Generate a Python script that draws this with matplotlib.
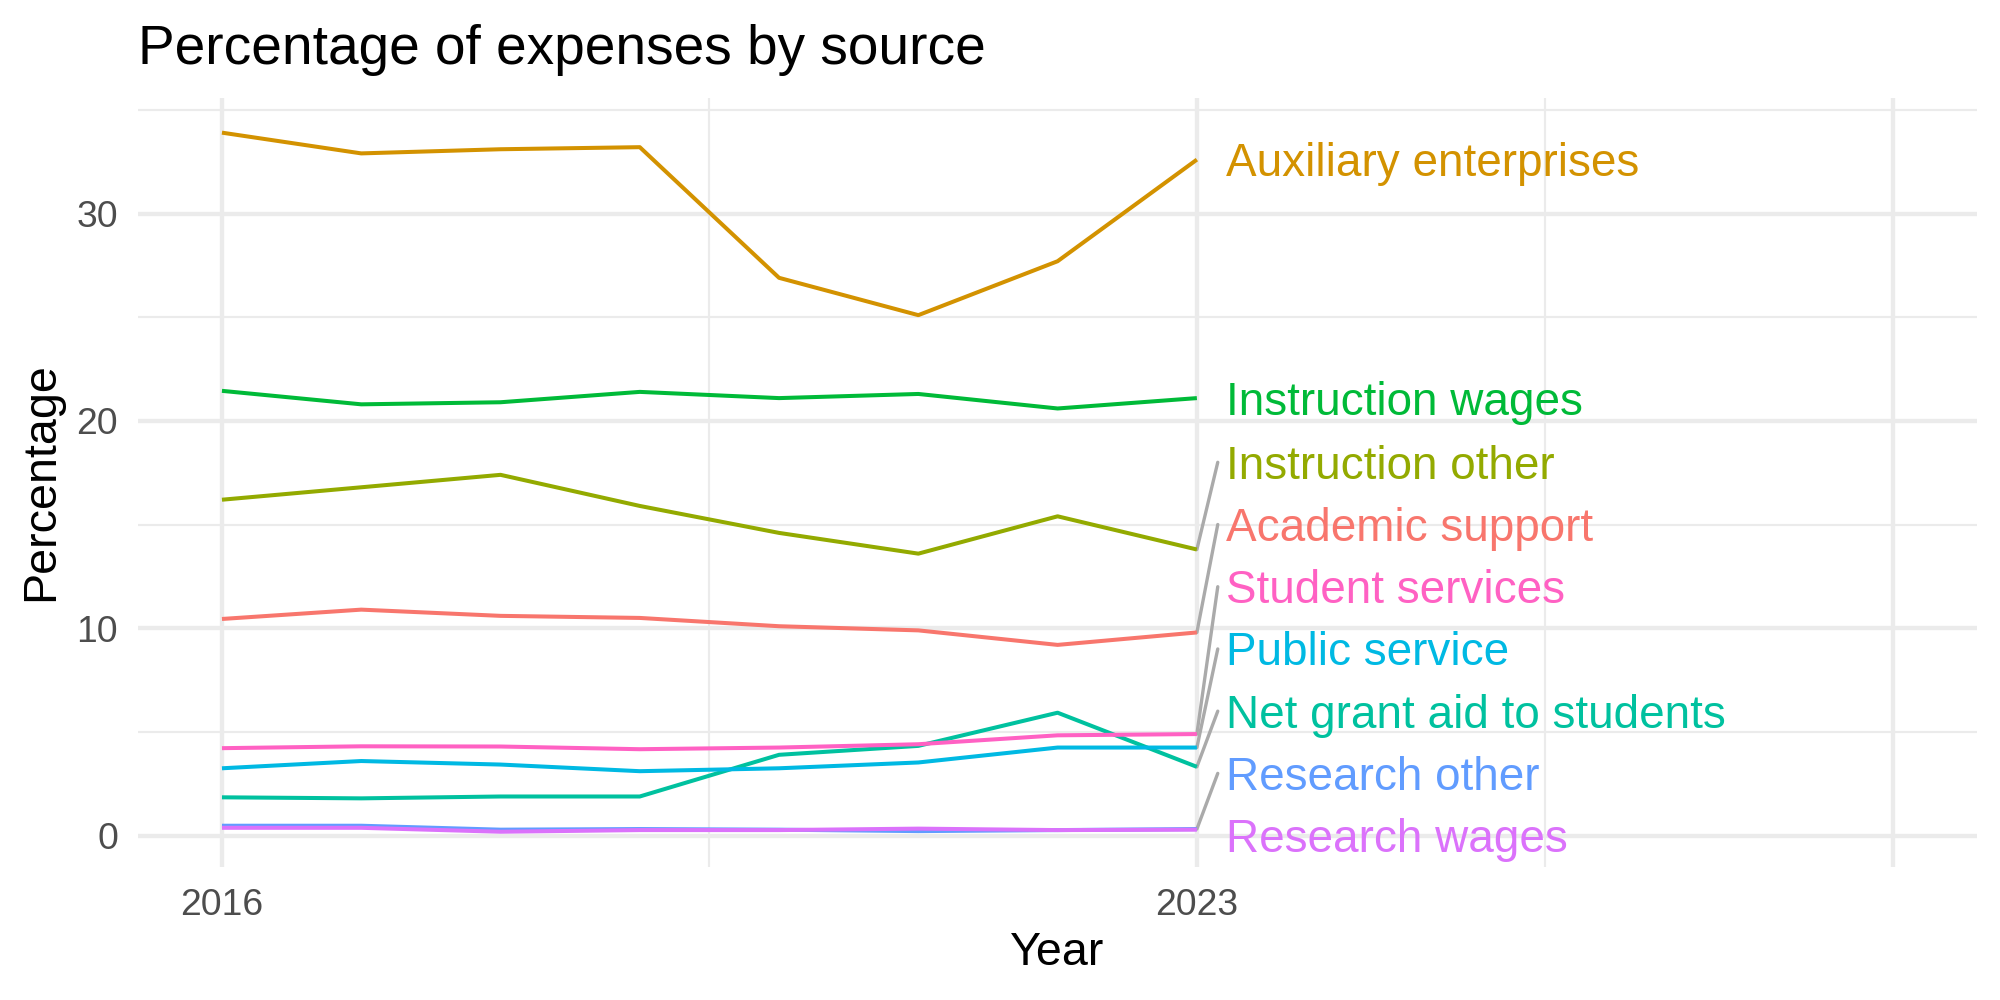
import numpy as np
import matplotlib
matplotlib.use("Agg")
import matplotlib.pyplot as plt
from matplotlib.transforms import offset_copy

plt.rcParams['font.family'] = ['Liberation Sans', 'DejaVu Sans']

# Data
years = [2016, 2017, 2018, 2019, 2020, 2021, 2022, 2023]

sources = [
    "Academic support", "Auxiliary enterprises", "Instruction other",
    "Instruction wages", "Net grant aid to students", "Public service",
    "Research other", "Research wages", "Student services",
]

academic_support = [10.45, 10.9, 10.6, 10.5, 10.1, 9.9, 9.2, 9.8]
auxiliary_enterprises = [33.9, 32.9, 33.1, 33.2, 26.9, 25.1, 27.7, 32.6]
instruction_other = [16.2, 16.8, 17.4, 15.9, 14.6, 13.6, 15.4, 13.8]
instruction_wages = [21.45, 20.8, 20.9, 21.4, 21.1, 21.3, 20.6, 21.1]
net_grant_aid = [1.85, 1.8, 1.89, 1.89, 3.9, 4.33, 5.93, 3.32]
public_service = [3.25, 3.6, 3.43, 3.11, 3.25, 3.53, 4.25, 4.25]
research_other = [0.48, 0.48, 0.29, 0.32, 0.29, 0.22, 0.27, 0.32]
research_wages = [0.38, 0.38, 0.19, 0.27, 0.27, 0.34, 0.27, 0.29]
student_services = [4.22, 4.31, 4.30, 4.17, 4.25, 4.41, 4.84, 4.9]

series = [
    academic_support, auxiliary_enterprises, instruction_other,
    instruction_wages, net_grant_aid, public_service,
    research_other, research_wages, student_services,
]

# ggplot2 default hue palette for 9 groups
colors = ["#F8766D", "#D39200", "#93AA00", "#00BA38", "#00C19F",
          "#00B9E3", "#619CFF", "#DB72FB", "#FF61C3"]

x_major = [2016, 2023, 2028]
x_labels = ["2016", "2023", ""]
x_minor = [2019.5, 2025.5]
y_major = [0, 10, 20, 30]
y_minor = [5, 15, 25, 35]

GRID = "#EBEBEB"
TICK = "#4D4D4D"


# Simple ggrepel-like spreading of labels along y
def spread_labels(values, gap, lower):
    order = np.argsort(values)
    blocks = []
    for i in order:
        blocks.append([[i], values[i]])
        while len(blocks) > 1:
            prev, cur = blocks[-2], blocks[-1]
            if prev[1] + gap * len(prev[0]) <= cur[1]:
                break
            idx = prev[0] + cur[0]
            start = np.mean([values[j] - gap * k for k, j in enumerate(idx)])
            blocks[-2:] = [[idx, start]]
    pos = np.empty(len(values))
    floor = lower
    for idx, start in blocks:
        start = max(start, floor)
        for k, j in enumerate(idx):
            pos[j] = start + gap * k
        floor = start + gap * len(idx)
    return pos


fig = plt.figure(figsize=(10, 5), dpi=200)
ax = fig.add_axes([0.0692, 0.1333, 0.9192, 0.7690])

for vals, col in zip(series, colors):
    ax.plot(years, vals, color=col, lw=1.45, solid_joinstyle='round',
            solid_capstyle='butt', zorder=3)

# limits with ggplot-like 5% expansion
all_vals = np.concatenate([np.asarray(s) for s in series])
y_lo, y_hi = all_vals.min(), all_vals.max()
y_pad = 0.05 * (y_hi - y_lo)
ax.set_ylim(y_lo - y_pad, y_hi + y_pad)
x_pad = 0.05 * (x_major[-1] - years[0])
ax.set_xlim(years[0] - x_pad, x_major[-1] + x_pad)

# labels at the line ends
end_vals = np.array([s[-1] for s in series])
gap = 3.0
label_pos = spread_labels(end_vals, gap, ax.get_ylim()[0] + gap / 2)
label_x = years[-1] + 0.21
seg_x = years[-1] + 0.15
lab_size = 16.5
lab_trans = offset_copy(ax.transData, fig=fig, x=0, y=-0.358 * lab_size, units='points')
for name, val, pos, col in zip(sources, end_vals, label_pos, colors):
    if abs(pos - val) > 0.5:
        ax.plot([years[-1], seg_x], [val, pos], color="#AAAAAA", lw=1.2,
                solid_capstyle='round', zorder=2)
    ax.text(label_x, pos, name, color=col, fontsize=lab_size, ha='left',
            va='baseline', transform=lab_trans, zorder=4)

ax.set_xticks(x_major, labels=x_labels)
ax.set_xticks(x_minor, minor=True)
ax.set_yticks(y_major, labels=[str(v) for v in y_major])
ax.set_yticks(y_minor, minor=True)
ax.grid(which='major', color=GRID, lw=1.55)
ax.grid(which='minor', color=GRID, lw=0.78)
ax.set_axisbelow(True)
for sp in ax.spines.values():
    sp.set_visible(False)
ax.tick_params(axis='both', which='both', length=0, labelsize=13.4, labelcolor=TICK)
ax.tick_params(axis='x', pad=7.6)
ax.tick_params(axis='y', pad=7.3)

fig.text(0.0692, 1 - 63.5 / 1000, "Percentage of expenses by source",
         fontsize=19.8, ha='left', va='baseline')
fig.text(0.5287, 1 - 965 / 1000, "Year", fontsize=16.8, ha='center', va='baseline')
fig.text(41.5 / 2000, 0.518, "Percentage", fontsize=16.8, rotation=90,
         ha='center', va='center')

fig.savefig("out.png", dpi=200)
